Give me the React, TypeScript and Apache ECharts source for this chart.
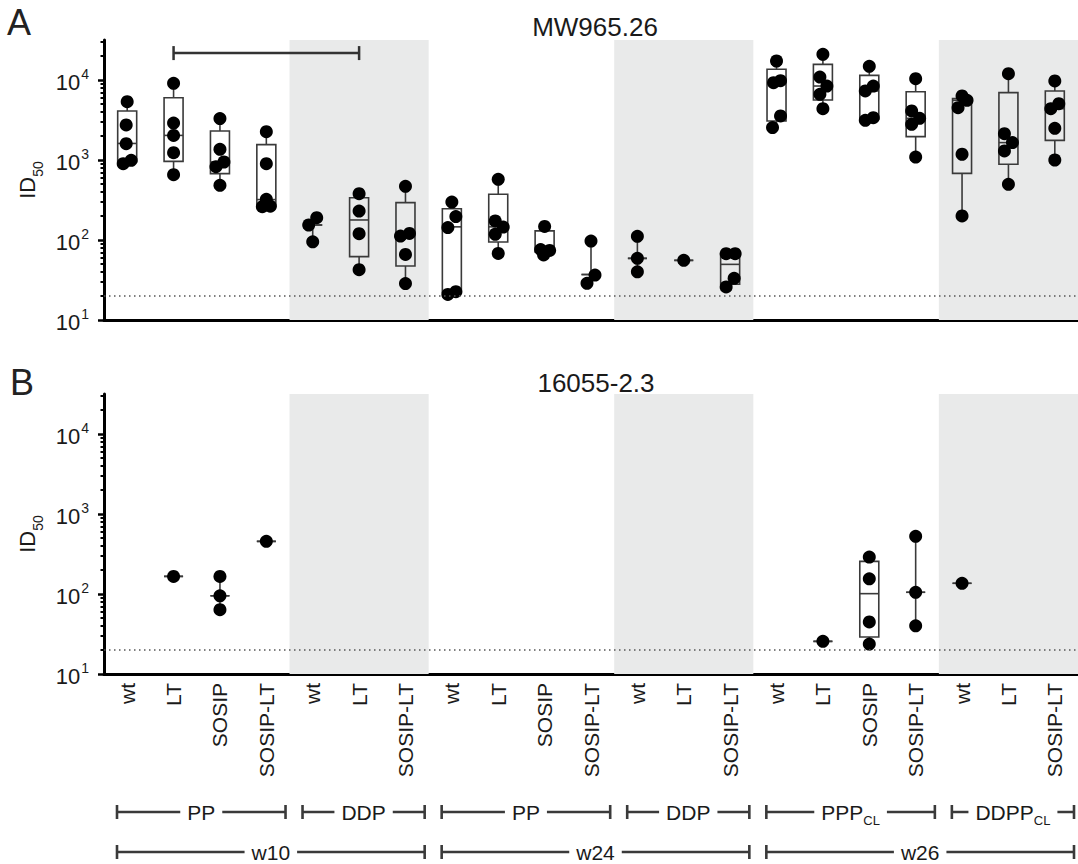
import React, { useEffect, useRef } from "react";
import * as echarts from "echarts";

// ---------- data ----------
const categories = [
  "wt", "LT", "SOSIP", "SOSIP-LT",
  "wt", "LT", "SOSIP-LT",
  "wt", "LT", "SOSIP", "SOSIP-LT",
  "wt", "LT", "SOSIP-LT",
  "wt", "LT", "SOSIP", "SOSIP-LT",
  "wt", "LT", "SOSIP-LT",
];
const yMajorTicks = [10, 100, 1000, 10000];
const yMinorTicks = [
  20, 30, 40, 50, 60, 70, 80, 90,
  200, 300, 400, 500, 600, 700, 800, 900,
  2000, 3000, 4000, 5000, 6000, 7000, 8000, 9000,
  20000, 30000,
];
const yMin = 10;
const yMax = 31623;
const cutoff = 20;
const titleA = "MW965.26";
const titleB = "16055-2.3";
const shadedGroups = [[4, 6], [11, 13], [18, 20]];
const immunogenGroups = [
  { from: 0, to: 3, main: "PP", sub: "" },
  { from: 4, to: 6, main: "DDP", sub: "" },
  { from: 7, to: 10, main: "PP", sub: "" },
  { from: 11, to: 13, main: "DDP", sub: "" },
  { from: 14, to: 17, main: "PPP", sub: "CL" },
  { from: 18, to: 20, main: "DDPP", sub: "CL" },
];
const weekGroups = [
  { from: 0, to: 6, main: "w10", sub: "" },
  { from: 7, to: 13, main: "w24", sub: "" },
  { from: 14, to: 20, main: "w26", sub: "" },
];

// Panel A: ID50 values per category
const aPoints: number[][] = [
  [5360, 2740, 1600, 990, 900],
  [9090, 2900, 2030, 1235, 656],
  [3290, 1360, 944, 826, 482],
  [2260, 900, 322, 261, 265],
  [190, 154, 95],
  [379, 230, 120, 42.6],
  [469, 121, 112, 66, 28.5],
  [298, 196, 143, 22.6, 20.9],
  [573, 173, 145, 118, 68],
  [148, 76, 74, 65],
  [97, 36.5, 28.7],
  [111, 59, 40],
  [55.7],
  [67.5, 67.5, 33.2, 25.9],
  [17280, 9810, 9260, 3550, 2540],
  [20930, 10900, 8410, 6620, 4380],
  [14830, 8410, 7290, 3380, 3130],
  [10390, 4100, 3320, 2790, 1090],
  [6310, 5570, 4510, 1180, 200],
  [12000, 2130, 1650, 1300, 496],
  [9720, 5060, 4380, 2490, 1000],
];
// horizontal jitter of each dot (px)
const aJitterPx: number[][] = [
  [0, -1, -1, 4, -4],
  [0, 0, 0, 0, 0],
  [0, 0, 4, -4, 0],
  [0, 0, 0, -4, 4],
  [4, -4, 0],
  [0, 0, 0, 0],
  [0, 4, -5, 0, 0],
  [0, 4, -4, 4, -4],
  [0, -3, 5, -3, 0],
  [0, -4, 5, -1],
  [0, 4, -4],
  [0, 0, 0],
  [0],
  [-4, 5, 4, -4],
  [0, 4, -3, 4, -4],
  [0, -3, 4, -3, 0],
  [0, 4, -4, 4, -4],
  [0, -4, 4, -4, 0],
  [0, 5, -4, 0, 0],
  [0, -4, 4, -4, 0],
  [0, 4, -4, 0, 0],
];
// [min, q1, median, q3, max]
const aBoxes: (number[] | null)[] = [
  [900, 950, 1610, 4100, 5360],
  [656, 962, 2030, 6010, 9090],
  [482, 675, 944, 2300, 3290],
  [261, 263, 320, 1555, 2260],
  [95, 154, 154, 154, 190],
  [42.6, 62, 178, 338, 379],
  [28.5, 47.3, 112, 293, 469],
  [20.9, 22, 146, 246, 298],
  [68, 94.4, 146, 373, 573],
  [65, 71, 75, 130, 148],
  [28.7, 37, 37, 37, 97],
  [40, 59, 59, 59, 111],
  [55.7, 55.7, 55.7, 55.7, 55.7],
  [25.9, 28, 49.6, 67, 67.5],
  [2540, 3070, 9260, 13600, 17280],
  [4380, 5620, 8410, 15700, 20930],
  [3130, 3250, 7290, 11430, 14830],
  [1090, 1960, 3320, 7140, 10390],
  [200, 681, 5570, 5850, 6310],
  [496, 883, 1650, 6950, 12000],
  [1000, 1760, 4380, 7290, 9720],
];
// significance bracket: [from category, to category, height]
const aSignificance = [[1, 5, 21700]];

// Panel B
const bPoints: number[][] = [
  [], [166], [166, 95, 63.7], [455],
  [], [], [],
  [], [], [], [],
  [], [], [],
  [], [25.6], [290, 155, 44.7, 23.7], [526, 105, 40],
  [136], [], [],
];
const bJitterPx: number[][] = bPoints.map((arr) => arr.map(() => 0));
const bBoxes: (number[] | null)[] = [
  null, [166, 166, 166, 166, 166], [63.7, 95, 95, 95, 166], [455, 455, 455, 455, 455],
  null, null, null,
  null, null, null, null,
  null, null, null,
  null, [25.6, 25.6, 25.6, 25.6, 25.6], [23.7, 29, 101, 256, 290], [40, 105, 105, 105, 526],
  [136, 136, 136, 136, 136], null, null,
];

// ---------- styles ----------
const FONT = "'Liberation Sans', Arial, Helvetica, sans-serif";
const TXT = "#1a1a1a";
const GRID_LEFT = 104;
const GRID_RIGHT = 0;
const GRID_TOPS = [40, 394];
const GRID_H = 280;

function buildPanel(idx: number, points: number[][], jitter: number[][], boxes: (number[] | null)[], showLabels: boolean) {
  const boxData = boxes
    .map((b, i) => (b ? [i, ...b] : null))
    .filter((d) => d !== null);
  const scatterData: any[] = [];
  points.forEach((arr, i) =>
    arr.forEach((v, j) => {
      scatterData.push({ value: [i, v], symbolOffset: [jitter[i][j], 0] });
    })
  );
  const xAxis = {
    type: "category",
    gridIndex: idx,
    data: categories,
    boundaryGap: true,
    axisLine: { lineStyle: { color: "#000", width: 3 } },
    axisTick: { alignWithLabel: true, length: 7, lineStyle: { color: "#000", width: 3 } },
    axisLabel: showLabels
      ? { show: true, interval: 0, rotate: 90, fontSize: 21, color: TXT, fontFamily: FONT, margin: 9 }
      : { show: false },
    splitLine: { show: false },
  };
  const yMain = {
    type: "log",
    logBase: 10,
    gridIndex: idx,
    min: yMin,
    max: yMax,
    position: "left",
    axisLine: { show: true, lineStyle: { color: "#000", width: 3 } },
    axisTick: { show: true, customValues: yMajorTicks, length: 6, lineStyle: { color: "#000", width: 2.5 } },
    minorTick: { show: false },
    splitLine: { show: false },
    axisLabel: {
      show: true,
      customValues: yMajorTicks,
      margin: 15,
      formatter: (v: number) => `{b|10}{s|${Math.round(Math.log10(v))}}`,
      rich: {
        b: { fontSize: 22, color: TXT, fontFamily: FONT, lineHeight: 26, verticalAlign: "bottom" },
        s: { fontSize: 14, color: TXT, fontFamily: FONT, lineHeight: 14, verticalAlign: "top", padding: [0, 0, 0, 1] },
      },
    },
    name: "{a|ID}{b|50}",
    nameLocation: "middle",
    nameRotate: 90,
    nameGap: 56,
    nameTextStyle: {
      rich: {
        a: { fontSize: 22, color: TXT, fontFamily: FONT, lineHeight: 28, verticalAlign: "top" },
        b: { fontSize: 14, color: TXT, fontFamily: FONT, lineHeight: 14, verticalAlign: "bottom" },
      },
    },
  };
  const yMinor = {
    type: "log",
    logBase: 10,
    gridIndex: idx,
    min: yMin,
    max: yMax,
    position: "left",
    axisLine: { show: false },
    axisTick: { show: true, customValues: yMinorTicks, length: 3.5, lineStyle: { color: "#000", width: 2 } },
    axisLabel: { show: false },
    splitLine: { show: false },
  };
  const yIdx = idx * 2;
  const series: any[] = [
    {
      type: "custom",
      xAxisIndex: idx,
      yAxisIndex: yIdx,
      z: 1,
      silent: true,
      data: shadedGroups,
      encode: { x: [0, 1] },
      renderItem: (params: any, api: any) => {
        const c0 = api.coord([api.value(0), 100]);
        const c1 = api.coord([api.value(1), 100]);
        const bw = api.coord([1, 100])[0] - api.coord([0, 100])[0];
        const cs = params.coordSys;
        return {
          type: "rect",
          shape: { x: c0[0] - bw / 2, y: cs.y, width: c1[0] - c0[0] + bw, height: cs.height },
          style: { fill: "#e9eaea" },
        };
      },
    },
    {
      type: "custom",
      xAxisIndex: idx,
      yAxisIndex: yIdx,
      z: 3,
      silent: true,
      data: boxData,
      encode: { x: 0, y: [1, 2, 3, 4, 5] },
      renderItem: (params: any, api: any) => {
        const x = api.value(0);
        const pMin = api.coord([x, api.value(1)]);
        const pQ1 = api.coord([x, api.value(2)]);
        const pMed = api.coord([x, api.value(3)]);
        const pQ3 = api.coord([x, api.value(4)]);
        const pMax = api.coord([x, api.value(5)]);
        const cx = pMin[0];
        const hw = 9.5;
        const st = { stroke: "#3a3a3a", lineWidth: 1.6, fill: "none" };
        return {
          type: "group",
          children: [
            { type: "line", shape: { x1: cx, y1: pMax[1], x2: cx, y2: pQ3[1] }, style: st },
            { type: "line", shape: { x1: cx, y1: pQ1[1], x2: cx, y2: pMin[1] }, style: st },
            { type: "rect", shape: { x: cx - hw, y: pQ3[1], width: hw * 2, height: pQ1[1] - pQ3[1] }, style: st },
            { type: "line", shape: { x1: cx - hw, y1: pMed[1], x2: cx + hw, y2: pMed[1] }, style: st },
          ],
        };
      },
      markLine: {
        silent: true,
        symbol: ["none", "none"],
        label: { show: false },
        lineStyle: { type: [1.5, 3.5], color: "#555", width: 1.5 },
        data: [{ yAxis: cutoff }],
      },
    },
    {
      type: "scatter",
      xAxisIndex: idx,
      yAxisIndex: yIdx,
      z: 4,
      silent: true,
      symbol: "circle",
      symbolSize: 13,
      itemStyle: { color: "#000", opacity: 1 },
      data: scatterData,
    },
  ];
  return { xAxis, yAxes: [yMain, yMinor], series };
}

export default function App() {
  const ref = useRef<HTMLDivElement>(null);
  useEffect(() => {
    if (!ref.current) return;
    const chart = echarts.init(ref.current, null, { renderer: "svg" });
    const pA = buildPanel(0, aPoints, aJitterPx, aBoxes, false);
    const pB = buildPanel(1, bPoints, bJitterPx, bBoxes, true);
    const sigSeries = {
      type: "custom",
      xAxisIndex: 0,
      yAxisIndex: 0,
      z: 5,
      silent: true,
      data: aSignificance,
      encode: { x: [0, 1], y: 2 },
      renderItem: (params: any, api: any) => {
        const a = api.coord([api.value(0), api.value(2)]);
        const b = api.coord([api.value(1), api.value(2)]);
        const st = { stroke: "#333", lineWidth: 2.5 };
        return {
          type: "group",
          children: [
            { type: "line", shape: { x1: a[0], y1: a[1], x2: b[0], y2: b[1] }, style: st },
            { type: "line", shape: { x1: a[0], y1: a[1] - 7, x2: a[0], y2: a[1] + 7 }, style: st },
            { type: "line", shape: { x1: b[0], y1: b[1] - 7, x2: b[0], y2: b[1] + 7 }, style: st },
          ],
        };
      },
    };
    const option: any = {
      animation: false,
      backgroundColor: "#fff",
      textStyle: { fontFamily: FONT },
      grid: GRID_TOPS.map((t) => ({ left: GRID_LEFT, right: GRID_RIGHT, top: t, height: GRID_H, containLabel: false })),
      xAxis: [pA.xAxis, pB.xAxis],
      yAxis: [...pA.yAxes, ...pB.yAxes],
      series: [...pA.series, sigSeries, ...pB.series],
    };
    chart.setOption(option);

    // bracket annotations under panel B
    const center = (i: number) => chart.convertToPixel({ xAxisIndex: 1 } as any, i) as unknown as number;
    const bw = center(1) - center(0);
    const st = { stroke: "#3a3a3a", lineWidth: 2.6 };
    const makeBracket = (g: { from: number; to: number; main: string; sub: string }, y: number) => {
      const x1 = center(g.from) - bw / 2 + 13;
      const x2 = center(g.to) + bw / 2 - 4;
      const text = g.sub ? `{m|${g.main}}{s|${g.sub}}` : `{m|${g.main}}`;
      return [
        { type: "line", shape: { x1, y1: y, x2, y2: y }, style: st, z: 10 },
        { type: "line", shape: { x1, y1: y - 7, x2: x1, y2: y + 7 }, style: st, z: 10 },
        { type: "line", shape: { x1: x2, y1: y - 7, x2, y2: y + 7 }, style: st, z: 10 },
        {
          type: "text",
          x: (x1 + x2) / 2,
          y,
          z: 11,
          style: {
            text,
            align: "center",
            verticalAlign: "middle",
            backgroundColor: "#fff",
            padding: [0, 7],
            rich: {
              m: { fontSize: 21, fill: TXT, fontFamily: FONT, lineHeight: 20, verticalAlign: "middle" },
              s: { fontSize: 13, fill: TXT, fontFamily: FONT, lineHeight: 12, verticalAlign: "bottom", padding: [0, 0, -5, 0] },
            },
          },
        },
      ];
    };
    const graphics: any[] = [];
    immunogenGroups.forEach((g) => graphics.push(...makeBracket(g, 812)));
    weekGroups.forEach((g) => graphics.push(...makeBracket(g, 852)));
    graphics.push(
      { type: "text", x: 595, y: 27, style: { text: titleA, fontSize: 26, fill: TXT, fontFamily: FONT, align: "center", verticalAlign: "middle" } },
      { type: "text", x: 596, y: 383, style: { text: titleB, fontSize: 26, fill: TXT, fontFamily: FONT, align: "center", verticalAlign: "middle" } },
      { type: "text", x: 7, y: 22, style: { text: "A", fontSize: 36, fill: "#222", fontFamily: FONT, verticalAlign: "middle" } },
      { type: "text", x: 10, y: 382, style: { text: "B", fontSize: 36, fill: "#222", fontFamily: FONT, verticalAlign: "middle" } }
    );
    chart.setOption({ graphic: graphics });
    return () => chart.dispose();
  }, []);
  return <div ref={ref} style={{ position: "absolute", left: 0, top: 0, width: 1078, height: 864 }} />;
}
